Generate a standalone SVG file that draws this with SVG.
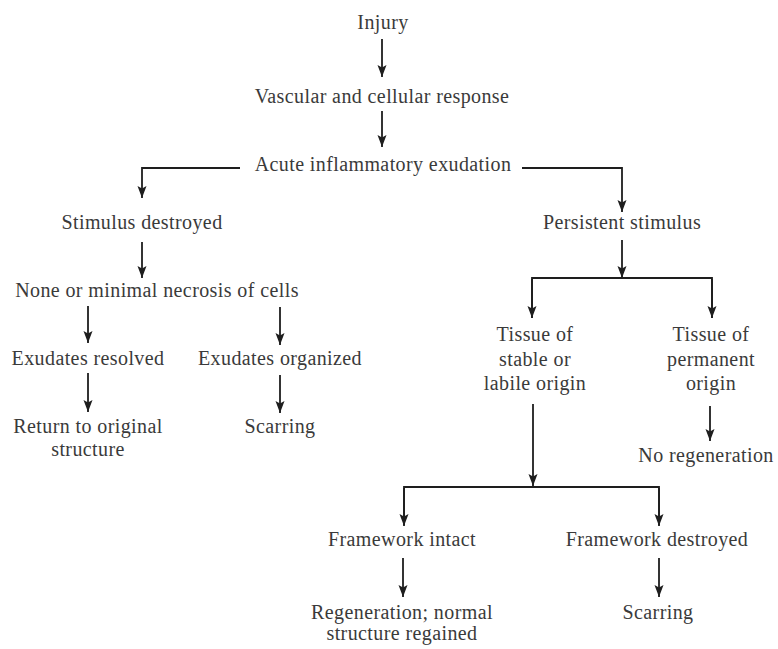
<svg xmlns="http://www.w3.org/2000/svg" width="778" height="649" viewBox="0 0 778 649">
<style>
text{font-family:"Liberation Serif","Times New Roman",serif;font-size:20px;letter-spacing:0.4px;fill:#3a3a3a;text-anchor:middle}
.c{fill:none;stroke:#1e1e1e;stroke-width:1.8;marker-end:url(#ah)}
.n{fill:none;stroke:#1e1e1e;stroke-width:1.8}
</style>
<defs>
<marker id="ah" markerUnits="userSpaceOnUse" markerWidth="14" markerHeight="12" refX="12" refY="5" orient="auto">
<path d="M0,0.5 L12,5 L0,9.5 L2.5,5 z" fill="#1e1e1e"/>
</marker>
</defs>
<rect width="778" height="649" fill="#fff"/>
<g id="connectors">
<line class="c" x1="382" y1="39" x2="382" y2="77"/>
<line class="c" x1="382" y1="111" x2="382" y2="147"/>
<polyline class="c" points="240,168 142,168 142,198"/>
<polyline class="c" points="522,168 622,168 622,212"/>
<line class="c" x1="142" y1="242" x2="142" y2="278"/>
<line class="c" x1="88" y1="306" x2="88" y2="343"/>
<line class="c" x1="280" y1="307" x2="280" y2="345"/>
<line class="c" x1="88" y1="373" x2="88" y2="412"/>
<line class="c" x1="280" y1="375" x2="280" y2="413"/>
<line class="c" x1="622" y1="240" x2="622" y2="278"/>
<polyline class="n" points="532,318 532,278 712,278 712,318"/>
<line class="c" x1="532" y1="279" x2="532" y2="318"/>
<line class="c" x1="712" y1="279" x2="712" y2="318"/>
<line class="c" x1="710" y1="406" x2="710" y2="441"/>
<line class="c" x1="533" y1="404" x2="533" y2="486"/>
<polyline class="n" points="404,525 404,487 659,487 659,525"/>
<line class="c" x1="404" y1="488" x2="404" y2="526"/>
<line class="c" x1="659" y1="488" x2="659" y2="526"/>
<line class="c" x1="403" y1="558" x2="403" y2="597"/>
<line class="c" x1="659" y1="558" x2="659" y2="597"/>
</g>
<g id="injury"><text x="383" y="29">Injury</text></g>
<g id="vascular"><text x="382" y="103">Vascular and cellular response</text></g>
<g id="acute"><text x="383" y="171">Acute inflammatory exudation</text></g>
<g id="stimulus-destroyed"><text x="142" y="229">Stimulus destroyed</text></g>
<g id="persistent-stimulus"><text x="622" y="229">Persistent stimulus</text></g>
<g id="necrosis"><text x="157" y="297">None or minimal necrosis of cells</text></g>
<g id="exudates-resolved"><text x="88" y="365">Exudates resolved</text></g>
<g id="exudates-organized"><text x="280" y="365">Exudates organized</text></g>
<g id="return"><text x="88" y="433">Return to original</text><text x="88" y="456">structure</text></g>
<g id="scarring-1"><text x="280" y="433">Scarring</text></g>
<g id="stable-labile"><text x="535" y="341">Tissue of</text><text x="535" y="366">stable or</text><text x="535" y="390">labile origin</text></g>
<g id="permanent"><text x="711" y="341">Tissue of</text><text x="711" y="366">permanent</text><text x="711" y="390">origin</text></g>
<g id="no-regeneration"><text x="706" y="462">No regeneration</text></g>
<g id="framework-intact"><text x="402" y="546">Framework intact</text></g>
<g id="framework-destroyed"><text x="657" y="546">Framework destroyed</text></g>
<g id="regeneration"><text x="402" y="619">Regeneration; normal</text><text x="402" y="640">structure regained</text></g>
<g id="scarring-2"><text x="658" y="619">Scarring</text></g>
</svg>
